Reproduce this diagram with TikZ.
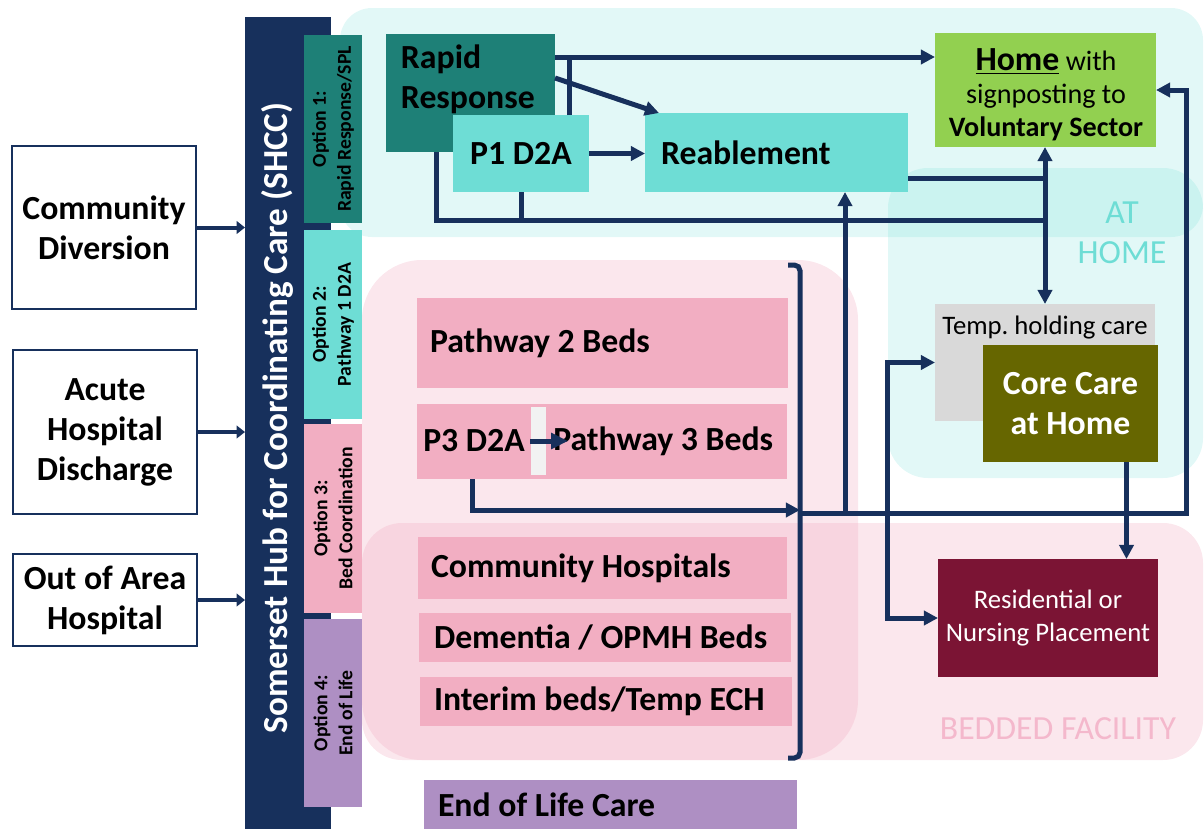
\documentclass[tikz,border=0pt]{standalone}
\usepackage{fontspec}
\setmainfont{Carlito}
\usetikzlibrary{arrows.meta}
\frenchspacing

\definecolor{navy}{HTML}{17305C}
\definecolor{darkteal}{HTML}{1E8077}
\definecolor{lteal}{HTML}{6EDDD5}
\definecolor{pinkbox}{HTML}{F2AEC2}
\definecolor{pinktxt}{HTML}{F4B8CC}
\definecolor{purplebox}{HTML}{AE8FC3}
\definecolor{homegreen}{HTML}{92D050}
\definecolor{olive}{HTML}{666600}
\definecolor{maroon}{HTML}{7B1434}
\definecolor{holdgrey}{HTML}{D9D9D9}
\definecolor{sepgrey}{HTML}{F2F2F2}

\newcommand{\pxu}{0.025cm}

\tikzset{
  box/.style={inner sep=0pt, outer sep=0pt},
  sz/.style 2 args={minimum width=#1*\pxu, minimum height=#2*\pxu},
  big/.style={font=\bfseries\fontsize{24}{28.5}\selectfont},
  src/.style={box, draw=navy, line width=2*\pxu, fill=white, align=center, big},
  opttxt/.style={rotate=90, align=center, font=\bfseries\fontsize{14}{17.8}\selectfont},
  bedbox/.style={box, fill=pinkbox, big, align=flush left, anchor=west},
  conn/.style={draw=navy, line width=5*\pxu},
  flow/.style={conn, -{Triangle[length=10pt,width=10pt]}},
  inflow/.style={draw=navy, line width=4*\pxu, -{Triangle[length=6pt,width=9pt]}}
}

\begin{document}
\begin{tikzpicture}[x=0.025cm, y=-0.025cm]
\useasboundingbox (0,0) rectangle (1204,829);

% Background regions
\fill[lteal, opacity=0.2, rounded corners=0.8cm] (340,8) rectangle (1203,237);
\fill[lteal, opacity=0.2, rounded corners=1cm] (888,168) rectangle (1203,478);
\fill[pinkbox, opacity=0.3, rounded corners=1.5cm] (362,260) rectangle (858,760);
\fill[pinkbox, opacity=0.3, rounded corners=1cm] (362,523) rectangle (1203,760);
\node[align=center, text=lteal, font=\fontsize{24}{28.5}\selectfont] (athome) at (1122,233) {AT\\HOME};
\node[text=pinktxt, font=\fontsize{24}{28.5}\selectfont] (bedded) at (1058,729) {BEDDED FACILITY};

% Referral sources
\node[src, sz={184}{163}] (comm) at (104,227.5) {Community\\Diversion};
\node[src, sz={184}{164}] (acute) at (105,432) {Acute\\Hospital\\Discharge};
\node[src, sz={184}{92}] (outa) at (105,600) {Out of Area\\Hospital};

% Hub and options
\node[box, fill=navy, sz={86}{812}] (hub) at (288,423) {};
\node[rotate=90, text=white, font=\bfseries\fontsize{25}{30}\selectfont] (hubtxt) at (277,418) {Somerset Hub for Coordinating Care (SHCC)};
\node[box, fill=darkteal, sz={58}{188}] (opt1) at (333,129) {};
\node[box, fill=lteal, sz={58}{189}] (opt2) at (333,324.5) {};
\node[box, fill=pinkbox, sz={58}{189}] (opt3) at (333,518.5) {};
\node[box, fill=purplebox, sz={58}{188}] (opt4) at (333,713) {};
\node[opttxt] at (opt1) {Option 1:\\Rapid Response/SPL};
\node[opttxt] at (opt2) {Option 2:\\Pathway 1 D2A};
\node[opttxt] at (opt3) {Option 3:\\Bed Coordination};
\node[opttxt] at (opt4) {Option 4:\\End of Life};

% At home services
\node[box, fill=darkteal, sz={169}{118}] (rapid) at (470.5,93) {};
\node[big, align=flush left, anchor=west] (rapidtxt) at (396,79) {Rapid\\Response};
\node[box, fill=lteal, sz={136}{77}, big] (p1) at (521,153.5) {P1 D2A\hspace{14\pxu}};
\node[box, fill=lteal, sz={263}{79}, big, align=flush left, text width=231*\pxu, inner xsep=16*\pxu] (reab) at (776.5,152.5) {Reablement};
\node[box, fill=homegreen, sz={221}{114}] (home) at (1045.5,90) {};
\node[align=center, font=\fontsize{20}{23.5}\selectfont] (hometxt) at (1046,95)
  {{\fontsize{24}{24}\selectfont\bfseries\underline{Home}} with\\signposting to\\\textbf{Voluntary Sector}};
\node[box, fill=holdgrey, sz={220}{117}] (temp) at (1045,362.5) {};
\node[font=\fontsize{19}{22}\selectfont] (temptxt) at (1045,328) {Temp. holding care};
\node[box, fill=olive, sz={175}{117}, big, text=white, align=center] (core) at (1070.5,403.5) {Core Care\\at Home};
\node[box, fill=maroon, sz={220}{118}, text=white, align=center, font=\fontsize{19}{23.5}\selectfont] (resid) at (1048,618) {Residential or\\Nursing Placement};

% Bedded services
\node[bedbox, sz={371}{90}, text width=345*\pxu, inner xsep=13*\pxu] (pw2) at (417,343) {Pathway 2 Beds};
\node[box, fill=pinkbox, sz={370}{75}] (pw3) at (602,441.5) {};
\node[box, fill=sepgrey, sz={15}{68}] (sep) at (538.5,441) {};
\node[big, anchor=west, inner sep=0pt] (p3) at (423,441) {P3 D2A};
\node[big, anchor=west, inner sep=0pt] (pw3lbl) at (553,441) {Pathway 3 Beds};
\node[bedbox, sz={369}{62}, text width=343*\pxu, inner xsep=13*\pxu] (comhosp) at (418,568) {Community Hospitals};
\node[bedbox, sz={372}{49}, text width=342*\pxu, inner xsep=15*\pxu] (dement) at (419,637.5) {Dementia / OPMH Beds};
\node[bedbox, sz={372}{49}, text width=344*\pxu, inner xsep=14*\pxu] (interim) at (420,701.5) {Interim beds/Temp ECH};
\node[box, fill=purplebox, sz={373}{49}, big, align=flush left, text width=345*\pxu, inner xsep=14*\pxu, anchor=west] (eol) at (424,804.5) {End of Life Care};

% Junction points
\coordinate (brtop) at (788,265);
\coordinate (brbot) at (788,758);
\coordinate (brmid) at (800,510);
\coordinate (brout) at (800,513);
\coordinate (jlow) at (1045,220);
\coordinate (jmid) at (887,513);

% Referrals into the hub
\draw[inflow] (comm.east) -- (comm.east -| hub.west);
\draw[inflow] (acute.east) -- (acute.east -| hub.west);
\draw[inflow] (outa.east) -- (outa.east -| hub.west);

% Rapid response and P1 D2A
\draw[flow] (rapid.north east) ++(0,23) coordinate (rr1) -- (rr1 -| home.west);
\draw[conn] ([xshift=48*\pxu]p1.north) -- ([xshift=48*\pxu]p1.north |- rr1);
\draw[flow] (rapid.east) ++(0,-15) -- ([xshift=14*\pxu]reab.north west);
\draw[flow] (p1.east) -- (p1.east -| reab.west);
\draw[conn] ([xshift=50*\pxu]rapid.south west) |- (jlow);
\draw[conn] (p1.south) -- (p1.south |- jlow);
\draw[conn] (reab.south east) ++(0,-14) coordinate (re1) -- (re1 -| jlow);
\draw[flow] (jlow) -- (jlow |- home.south);
\draw[flow] (re1 -| jlow) -- (jlow |- temp.north);

% Bedded pathways out
\draw[conn, -{Triangle[length=12pt,width=11pt]}] ([xshift=5*\pxu]p3.east) -- ([xshift=15*\pxu]pw3lbl.west);
\draw[flow] ([xshift=55*\pxu]pw3.south west) |- (brmid);
\draw[conn, rounded corners=4pt] (brtop) -| (brmid) |- (brbot);
\draw[flow] (brout) -| ([xshift=30*\pxu]home.east) -- (home.east);
\path ([xshift=200*\pxu]reab.south west) coordinate (reabin);
\draw[flow] (reabin |- brout) -- (reabin);
\draw[flow] (jmid) |- (temp.west);
\draw[flow] (jmid) |- (resid.west);
\path ([xshift=56*\pxu]core.south) coordinate (coreout);
\draw[flow] (coreout) -- (coreout |- resid.north);
\end{tikzpicture}
\end{document}
